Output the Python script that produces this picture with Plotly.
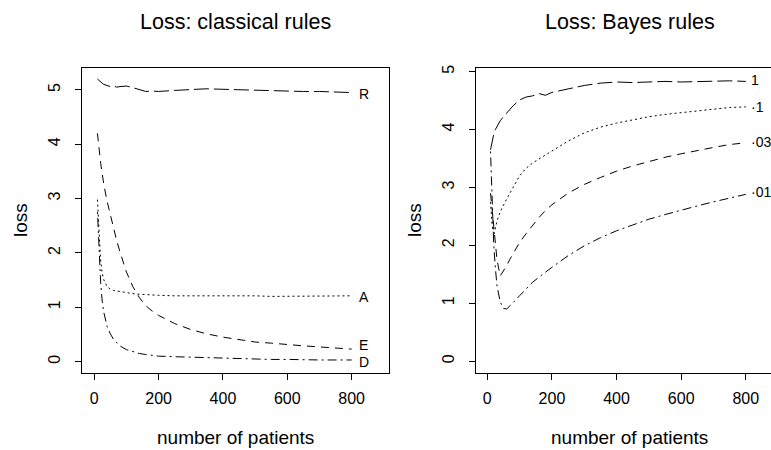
import plotly.graph_objects as go

# ---------------- data ----------------
n_cls = [10, 15, 20, 25, 30, 40, 50, 60, 70, 80, 100, 120, 140, 160, 180, 200,
         250, 300, 350, 400, 450, 500, 550, 600, 650, 700, 750, 800]
loss_R = [5.20, 5.17, 5.15, 5.12, 5.10, 5.08, 5.06, 5.07, 5.05, 5.06, 5.07, 5.04, 5.01, 4.97,
          4.98, 4.97, 4.99, 5.01, 5.02, 5.01, 5.00, 5.00, 4.99, 4.97, 4.97, 4.97, 4.96, 4.95]
loss_E = [4.20, 3.90, 3.65, 3.45, 3.25, 2.95, 2.70, 2.45, 2.22, 2.02, 1.65, 1.38, 1.18, 1.03,
          0.93, 0.85, 0.70, 0.59, 0.51, 0.45, 0.40, 0.36, 0.34, 0.31, 0.29, 0.27, 0.25, 0.23]
loss_A = [2.98, 2.30, 1.85, 1.62, 1.50, 1.38, 1.33, 1.31, 1.30, 1.28, 1.27, 1.25, 1.24, 1.23,
          1.22, 1.22, 1.21, 1.21, 1.22, 1.22, 1.21, 1.21, 1.20, 1.20, 1.20, 1.21, 1.21, 1.21]
loss_D = [2.75, 1.90, 1.45, 1.10, 0.90, 0.65, 0.51, 0.41, 0.34, 0.29, 0.22, 0.18, 0.15, 0.13,
          0.11, 0.10, 0.09, 0.08, 0.07, 0.06, 0.05, 0.05, 0.04, 0.04, 0.03, 0.03, 0.03, 0.03]

n_bay = [10, 15, 20, 25, 30, 40, 50, 60, 70, 80, 100, 120, 140, 160, 180, 200,
         250, 300, 350, 400, 450, 500, 550, 600, 650, 700, 750, 800]
loss_p1 = [3.65, 3.80, 3.92, 4.00, 4.06, 4.15, 4.22, 4.29, 4.35, 4.41, 4.51, 4.56, 4.58, 4.62,
           4.59, 4.64, 4.70, 4.76, 4.80, 4.82, 4.81, 4.82, 4.83, 4.82, 4.83, 4.84, 4.84, 4.83]
loss_p01 = [2.75, 2.35, 2.17, 2.30, 2.42, 2.58, 2.70, 2.80, 2.90, 3.00, 3.20, 3.33, 3.42, 3.49,
            3.56, 3.63, 3.80, 3.94, 4.04, 4.11, 4.17, 4.22, 4.26, 4.29, 4.32, 4.35, 4.38, 4.39]
loss_p003 = [2.90, 2.60, 2.30, 2.00, 1.75, 1.47, 1.55, 1.65, 1.76, 1.86, 2.05, 2.20, 2.35, 2.48,
             2.60, 2.70, 2.90, 3.05, 3.17, 3.28, 3.37, 3.45, 3.52, 3.58, 3.64, 3.69, 3.74, 3.77]
loss_p001 = [3.62, 2.70, 2.00, 1.60, 1.30, 1.02, 0.91, 0.90, 0.95, 1.01, 1.13, 1.25, 1.36, 1.45,
             1.54, 1.62, 1.82, 1.99, 2.13, 2.25, 2.35, 2.45, 2.53, 2.61, 2.68, 2.75, 2.82, 2.88]

cls_labels = ["R", "A", "E", "D"]
cls_label_y = [4.93, 1.18, 0.31, 0.0]
bay_labels = ["1", "·1", "·03", "·01"]
bay_label_y = [4.86, 4.38, 3.78, 2.92]

x_ticks = [0, 200, 400, 600, 800]
y_ticks = [0, 1, 2, 3, 4, 5]

# ---------------- styles ----------------
FONT = "Liberation Sans, Arial, Helvetica, sans-serif"
W, H = 771, 450
DASH_LONG = "15px,5px"
DASH_DASH = "8px,6px"
DASH_DOT = "2px,3px"
DASH_DOTDASH = "2px,4px,9px,4px"

fig = go.Figure()

def add_line(x, y, dash, xa, ya):
    fig.add_trace(go.Scatter(x=x, y=y, mode="lines", xaxis=xa, yaxis=ya,
                             line=dict(color="black", width=1, dash=dash),
                             showlegend=False, hoverinfo="skip"))

add_line(n_cls, loss_R, DASH_LONG, "x", "y")
add_line(n_cls, loss_E, DASH_DASH, "x", "y")
add_line(n_cls, loss_A, DASH_DOT, "x", "y")
add_line(n_cls, loss_D, DASH_DOTDASH, "x", "y")

add_line(n_bay, loss_p1, DASH_LONG, "x2", "y2")
add_line(n_bay, loss_p01, DASH_DOT, "x2", "y2")
add_line(n_bay, loss_p003, DASH_DASH, "x2", "y2")
add_line(n_bay, loss_p001, DASH_DOTDASH, "x2", "y2")

ydom = [1 - 372.5 / H, 1 - 65 / H]

axis_common = dict(showgrid=False, zeroline=False, showline=True, linecolor="black",
                   linewidth=1, ticks="outside", ticklen=6, tickwidth=1, tickcolor="black",
                   tickfont=dict(family=FONT, size=16, color="black"))

fig.update_layout(
    width=W, height=H,
    margin=dict(l=0, r=0, t=0, b=0),
    paper_bgcolor="white", plot_bgcolor="white",
    xaxis=dict(domain=[82 / W, 389 / W], range=[-38, 916], tickvals=x_ticks,
               mirror=True, anchor="y", ticklabelstandoff=5, **axis_common),
    yaxis=dict(domain=ydom, range=[-0.21, 5.41], tickvals=y_ticks, tickangle=-90,
               mirror=True, anchor="x", ticklabelstandoff=9, **axis_common),
    xaxis2=dict(domain=[476 / W, 1.0], range=[-35, 878], tickvals=x_ticks,
                mirror=True, anchor="y2", ticklabelstandoff=5, **axis_common),
    yaxis2=dict(domain=ydom, range=[-0.206, 5.069], tickvals=y_ticks, tickangle=-90,
                mirror=False, anchor="x2", ticklabelstandoff=9, **axis_common),
)

ann = []
def txt(x, y, s, size, **kw):
    d = dict(x=x, y=y, text=s, showarrow=False,
             font=dict(family=FONT, size=size, color="black"))
    d.update(kw)
    ann.append(d)

# titles
txt(235.5 / W, 1 - 19 / H, "Loss: classical rules", 21.5, xref="paper", yref="paper",
    xanchor="center", yanchor="middle")
txt(629.5 / W, 1 - 19 / H, "Loss: Bayes rules", 21.5, xref="paper", yref="paper",
    xanchor="center", yanchor="middle")
# x axis titles
txt(235.5 / W, 1 - 437 / H, "number of patients", 19, xref="paper", yref="paper",
    xanchor="center", yanchor="middle")
txt(629.5 / W, 1 - 437 / H, "number of patients", 19, xref="paper", yref="paper",
    xanchor="center", yanchor="middle")
# y axis titles
txt(20 / W, 1 - 218.5 / H, "loss", 19, xref="paper", yref="paper",
    xanchor="center", yanchor="middle", textangle=-90)
txt(414 / W, 1 - 218.5 / H, "loss", 19, xref="paper", yref="paper",
    xanchor="center", yanchor="middle", textangle=-90)
# curve labels
for s, yv in zip(cls_labels, cls_label_y):
    txt(815, yv, s, 14, xref="x", yref="y", xanchor="left", yanchor="middle")
for s, yv in zip(bay_labels, bay_label_y):
    txt(810, yv, s, 14, xref="x2", yref="y2", xanchor="left", yanchor="middle")

fig.update_layout(annotations=ann)

fig.write_html("out.html")
